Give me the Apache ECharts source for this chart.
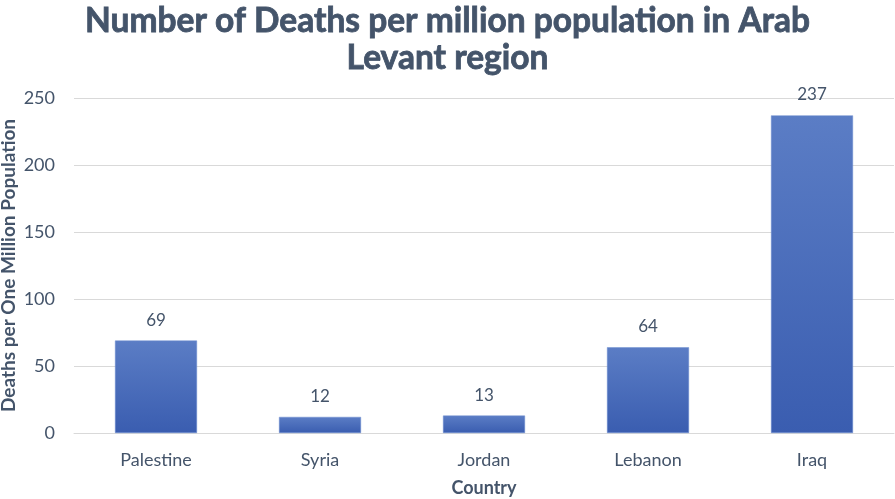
<!DOCTYPE html>
<html><head><meta charset="utf-8">
<script src="https://cdn.jsdelivr.net/npm/echarts@6/dist/echarts.min.js"></script>
<style>html,body{margin:0;padding:0;background:#fff}#c{width:895px;height:499px}</style>
</head><body><div id="c"></div>
<script>
const categories = ["Palestine", "Syria", "Jordan", "Lebanon", "Iraq"];
const deathsPerMillion = [69, 12, 13, 64, 237];
const yTicks = { min: 0, max: 250, interval: 50 };
const titleText = "Number of Deaths per million population in Arab\nLevant region";

const txt = '#44546a';
const font = 'Lato';
const chart = echarts.init(document.getElementById('c'), null, {renderer: 'canvas'});
chart.setOption({
  animation: false,
  title: {
    text: titleText, left: 'center', top: -2,
    textStyle: {fontFamily: font, fontWeight: 'bold', fontSize: 33.5, color: txt, lineHeight: 37,
      textBorderColor: txt, textBorderWidth: 0.8}
  },
  grid: {left: 74, right: 1, top: 98, bottom: 66, outerBoundsMode: 'none', containLabel: false},
  xAxis: {
    type: 'category', data: categories,
    name: 'Country', nameLocation: 'middle', nameGap: 46, nameMoveOverlap: false,
    nameTextStyle: {fontFamily: font, fontWeight: 'bold', fontSize: 18, color: txt},
    axisLine: {lineStyle: {color: '#d9d9d9'}},
    axisTick: {show: false},
    axisLabel: {fontFamily: font, fontSize: 18, color: txt, margin: 18}
  },
  yAxis: {
    type: 'value', min: yTicks.min, max: yTicks.max, interval: yTicks.interval,
    name: 'Deaths per One Million Population', nameLocation: 'middle', nameGap: 56, nameMoveOverlap: false,
    nameTextStyle: {fontFamily: font, fontWeight: 'bold', fontSize: 19, color: txt},
    axisLine: {show: false}, axisTick: {show: false},
    axisLabel: {fontFamily: font, fontSize: 18, color: txt, margin: 19},
    splitLine: {lineStyle: {color: '#d9d9d9'}}
  },
  series: [{
    type: 'bar', data: deathsPerMillion, barWidth: '50%',
    itemStyle: {
      color: new echarts.graphic.LinearGradient(0, 0, 0, 1, [
        {offset: 0, color: '#5b7dc5'}, {offset: 1, color: '#3a5db0'}
      ]),
      borderColor: '#6f8fd0', borderWidth: 0.5
    },
    label: {show: true, position: 'top', distance: 12, fontFamily: font, fontSize: 17, color: txt}
  }]
});
</script></body></html>
